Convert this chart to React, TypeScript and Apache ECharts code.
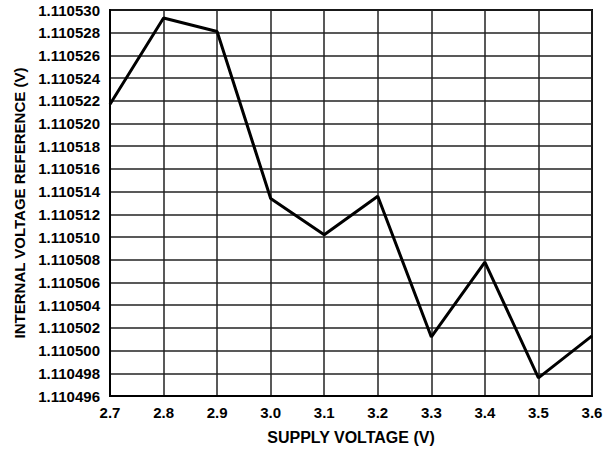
import React, { useEffect, useRef } from "react";
import * as echarts from "echarts";

const supplyVoltage = ["2.7", "2.8", "2.9", "3.0", "3.1", "3.2", "3.3", "3.4", "3.5", "3.6"];
const internalRef = [
  1.1105217, 1.1105293, 1.1105281, 1.1105134, 1.1105102, 1.1105136, 1.1105012, 1.1105078, 1.1104976, 1.1105013,
];
const yMin = 1.110496;
const yMax = 1.11053;
const yStep = 0.000002;

export default function App() {
  const ref = useRef<HTMLDivElement>(null);
  useEffect(() => {
    if (!ref.current) return;
    const chart = echarts.init(ref.current, null, { renderer: "svg" });
    const font = "Liberation Sans, Arial, sans-serif";
    chart.setOption({
      animation: false,
      grid: {
        left: 110,
        right: 18,
        top: 10,
        bottom: 56,
        show: true,
        borderColor: "#000",
        borderWidth: 2,
        backgroundColor: "transparent",
      },
      xAxis: {
        type: "category",
        data: supplyVoltage,
        boundaryGap: false,
        name: "SUPPLY VOLTAGE (V)",
        nameLocation: "middle",
        nameGap: 33,
        nameTextStyle: { fontFamily: font, fontWeight: "bold", fontSize: 16, color: "#000" },
        axisLine: { show: true, lineStyle: { color: "#000", width: 2 } },
        axisTick: { show: false },
        axisLabel: { fontFamily: font, fontWeight: "bold", fontSize: 15, color: "#000", margin: 9 },
        splitLine: { show: true, lineStyle: { color: "#222", width: 1.5 } },
      },
      yAxis: {
        type: "value",
        min: yMin,
        max: yMax,
        interval: yStep,
        name: "INTERNAL VOLTAGE REFERENCE (V)",
        nameLocation: "middle",
        nameGap: 81,
        nameTextStyle: { fontFamily: font, fontWeight: "bold", fontSize: 15, color: "#000" },
        axisLine: { show: true, lineStyle: { color: "#000", width: 2 } },
        axisTick: { show: false },
        axisLabel: {
          fontFamily: font,
          fontWeight: "bold",
          fontSize: 15,
          color: "#000",
          margin: 10,
          formatter: (v: number) => v.toFixed(6),
        },
        splitLine: { show: true, lineStyle: { color: "#222", width: 1.5 } },
      },
      series: [
        {
          type: "line",
          data: internalRef,
          symbol: "none",
          lineStyle: { color: "#000", width: 3 },
        },
      ],
    });
    return () => chart.dispose();
  }, []);
  return <div ref={ref} style={{ width: 610, height: 452, position: "absolute", left: 0, top: 0 }} />;
}
